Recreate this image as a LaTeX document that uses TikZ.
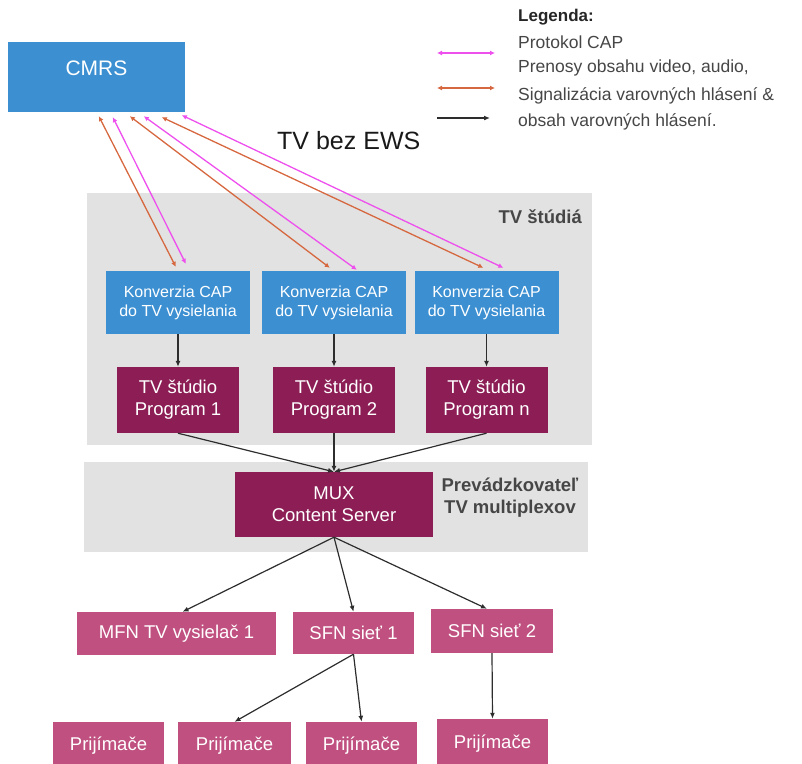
\documentclass[tikz,border=0pt]{standalone}
\usepackage{fontspec}
\setmainfont{Liberation Sans}
\usetikzlibrary{arrows.meta,calc}
\definecolor{cblue}{RGB}{60,144,210}
\definecolor{cmaroon}{RGB}{140,30,85}
\definecolor{cpink}{RGB}{192,80,128}
\definecolor{cgray}{RGB}{226,226,226}
\definecolor{cmag}{RGB}{238,80,238}
\definecolor{corange}{RGB}{214,104,64}
\definecolor{ctext}{RGB}{70,70,70}
\definecolor{cline}{RGB}{45,45,45}
\begin{document}
\begin{tikzpicture}[x=1pt,y=-1pt,
  box/.style={draw=none,inner sep=0pt,align=center,text=white},
  bluebox/.style={box,fill=cblue},
  maroonbox/.style={box,fill=cmaroon,font=\fontsize{18.5}{22}\selectfont},
  pinkbox/.style={box,fill=cpink,font=\fontsize{18.5}{21}\selectfont},
  konvbox/.style={bluebox,minimum width=144pt,minimum height=63pt,font=\fontsize{16}{19}\selectfont},
  studiobox/.style={maroonbox,minimum width=122pt,minimum height=66pt},
  region/.style={fill=cgray,draw=none},
  regionlabel/.style={text=ctext,font=\bfseries\fontsize{18.5}{22}\selectfont,inner sep=0pt,align=center},
  legtext/.style={anchor=west,inner sep=0pt,text=ctext,font=\fontsize{17.5}{20}\selectfont},
  capline/.style={cmag,line width=1.3pt,{Latex[length=5pt,width=5pt]}-{Latex[length=5pt,width=5pt]}},
  sigline/.style={corange,line width=1.3pt,{Latex[length=5pt,width=5pt]}-{Latex[length=5pt,width=5pt]}},
  flow/.style={cline,line width=1.2pt,-{Latex[length=6pt,width=5pt]}}
]
\useasboundingbox (0,0) rectangle (802,763);

% grey regions
\fill[region] (87,193) rectangle (592,445);
\fill[region] (84,462) rectangle (588,552);
\node[regionlabel,anchor=east] (lstudia) at (582,217) {TV štúdiá};
\node[regionlabel] (lmux) at (510,498) {Prevádzkovateľ\\TV multiplexov};

% CMRS
\node[bluebox,minimum width=177pt,minimum height=70pt,
  label={[text=white,font=\fontsize{21}{24}\selectfont,yshift=9pt]center:CMRS}] (cmrs) at (96.5,77) {};

% title
\node[anchor=west,inner sep=0pt,text=black!90,font=\fontsize{25}{30}\selectfont] (title) at (277,141) {TV bez EWS};

% legend
\node[legtext,font=\bfseries\fontsize{17}{20}\selectfont,text=black!85] (leg0) at (518,17) {Legenda:};
\node[legtext] (leg1) at (518,42) {Protokol CAP};
\node[legtext] (leg2) at (518,68) {Prenosy obsahu video, audio,};
\node[legtext] (leg3) at (518,96) {Signalizácia varovných hlásení \&};
\node[legtext] (leg4) at (518,122) {obsah varovných hlásení.};
\coordinate (lm1) at (437,53); \coordinate (lm2) at (495,53);
\coordinate (lo1) at (437,88); \coordinate (lo2) at (495,88);
\coordinate (lb1) at (437,118); \coordinate (lb2) at (490,118);
\draw[capline] (lm1) -- (lm2);
\draw[sigline] (lo1) -- (lo2);
\draw[flow] (lb1) -- (lb2);

% conversion boxes
\node[konvbox] (k1) at (178,302.5) {Konverzia CAP\\do TV vysielania};
\node[konvbox] (k2) at (334,302.5) {Konverzia CAP\\do TV vysielania};
\node[konvbox] (k3) at (486.5,302.5) {Konverzia CAP\\do TV vysielania};

% studio boxes
\node[studiobox] (s1) at (178,400) {TV štúdio\\Program 1};
\node[studiobox] (s2) at (334,400) {TV štúdio\\Program 2};
\node[studiobox] (s3) at (486.5,400) {TV štúdio\\Program n};

% MUX
\node[maroonbox,minimum width=198pt,minimum height=65pt] (mux) at (334,504.5) {MUX\\Content Server};

% transmitters
\node[pinkbox,minimum width=199pt,minimum height=43pt] (mfn) at (176.5,633.5) {MFN TV vysielač 1};
\node[pinkbox,minimum width=121pt,minimum height=42pt] (sfn1) at (353.5,633) {SFN sieť 1};
\node[pinkbox,minimum width=122pt,minimum height=44pt] (sfn2) at (492,631) {SFN sieť 2};

% receivers
\node[pinkbox,minimum width=111pt,minimum height=48pt] (p1) at (108.5,746) {Prijímače};
\node[pinkbox,minimum width=113pt,minimum height=48pt] (p2) at (234.5,746) {Prijímače};
\node[pinkbox,minimum width=111pt,minimum height=48pt] (p3) at (361.5,746) {Prijímače};
\node[pinkbox,minimum width=111pt,minimum height=50pt] (p4) at (492.5,744) {Prijímače};

% CAP / signalling lines
\draw[sigline] ($(cmrs.south west)+(91,4)$) -- ($(k1.north west)+(70,-4)$);
\draw[capline] ($(cmrs.south west)+(105,5)$) -- ($(k1.north west)+(80,-7)$);
\draw[sigline] ($(cmrs.south west)+(122,4)$) -- ($(k2.north west)+(68,-3)$);
\draw[capline] ($(cmrs.south west)+(136,4)$) -- ($(k2.north west)+(95,-1)$);
\draw[sigline] ($(cmrs.south west)+(154,5)$) -- ($(k3.north west)+(69,-3)$);
\draw[capline] ($(cmrs.south west)+(174,3)$) -- ($(k3.north west)+(89,-3)$);

% flows
\draw[flow] (k1.south) -- (s1.north);
\draw[flow] (k2.south) -- (s2.north);
\draw[flow] (k3.south) -- (s3.north);
\draw[flow] (s1.south) -- (mux.north);
\draw[flow] (s2.south) -- (mux.north);
\draw[flow] (s3.south) -- (mux.north);
\draw[flow] (mux.south) -- ($(mfn.north)+(6,0)$);
\draw[flow] (mux.south) -- (sfn1.north);
\draw[flow] (mux.south) -- ($(sfn2.north)+(-5,0)$);
\draw[flow] (sfn1.south) -- (p2.north);
\draw[flow] (sfn1.south) -- (p3.north);
\draw[flow] (sfn2.south) -- (p4.north);
\end{tikzpicture}
\end{document}
